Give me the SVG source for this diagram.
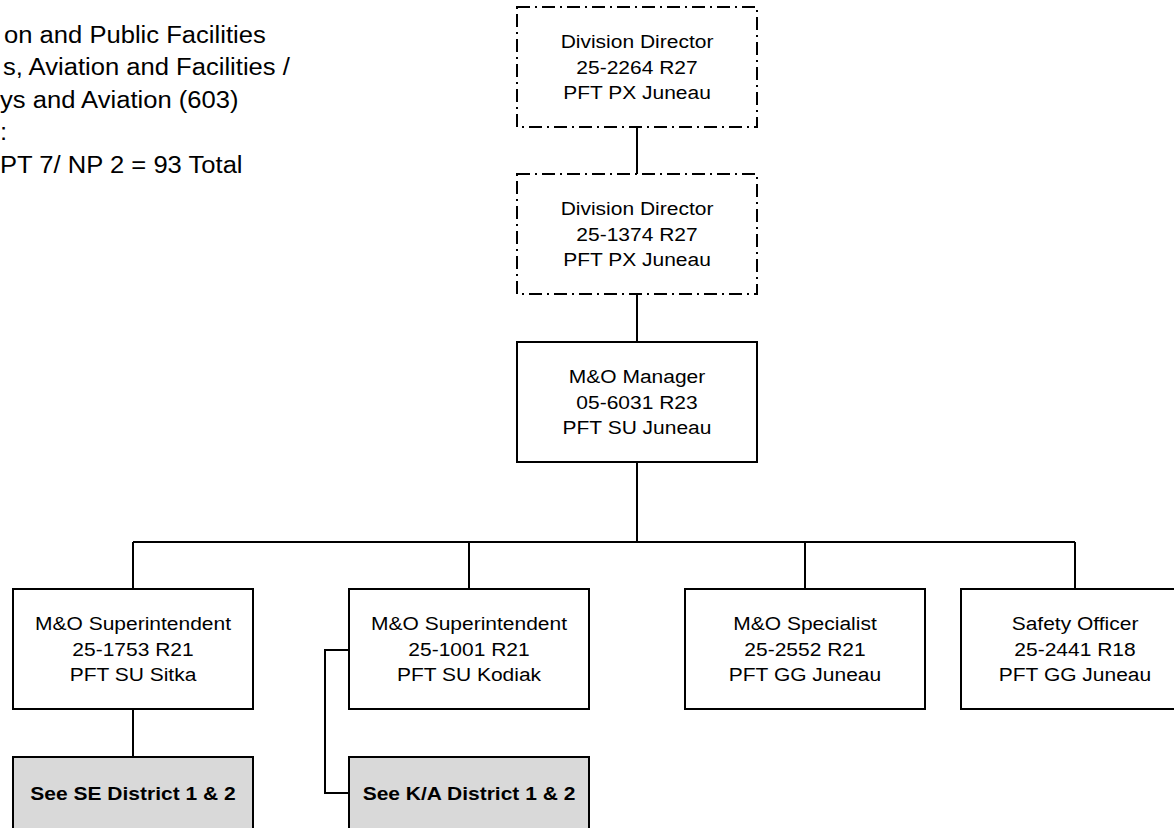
<svg xmlns="http://www.w3.org/2000/svg" width="1174" height="828" viewBox="0 0 1174 828">
<style>
.box{fill:#ffffff;stroke:#000000;stroke-width:2}
.dd{fill:#ffffff;stroke:#000000;stroke-width:2;stroke-dasharray:13 5 2 5}
.grey{fill:#d9d9d9;stroke:#000000;stroke-width:2}
.ln{fill:none;stroke:#000000;stroke-width:2}
.t{font-family:"Liberation Sans",Arial,sans-serif;font-size:21px;fill:#000000;text-anchor:middle}
.b{font-weight:bold}
.h{font-family:"Liberation Sans",Arial,sans-serif;font-size:25.6px;fill:#000000}
</style>
<rect width="1174" height="828" fill="#ffffff"/>
<g id="header">
<text class="h" transform="matrix(1 0 0 0.9 4 42.5)">on and Public Facilities</text>
<text class="h" transform="matrix(1 0 0 0.9 3 75)">s, Aviation and Facilities /</text>
<text class="h" transform="matrix(1 0 0 0.9 0 107.5)">ys and Aviation (603)</text>
<text class="h" transform="matrix(1 0 0 0.9 0 140)">:</text>
<text class="h" transform="matrix(1 0 0 0.9 0 172.5)">PT 7/ NP 2 = 93 Total</text>
</g>
<g id="connectors">
<path class="ln" d="M637 127V174"/>
<path class="ln" d="M637 294V342"/>
<path class="ln" d="M637 462V542"/>
<path class="ln" d="M133 542H1075"/>
<path class="ln" d="M133 542V589"/>
<path class="ln" d="M469 542V589"/>
<path class="ln" d="M805 542V589"/>
<path class="ln" d="M1075 542V589"/>
<path class="ln" d="M133 709V757"/>
<path class="ln" d="M349 650H325V793H349"/>
</g>
<g id="node-division-director-1">
<rect class="dd" x="517" y="7" width="240" height="120"/>
<text class="t" transform="matrix(1 0 0 0.885 637 48)">Division Director</text>
<text class="t" transform="matrix(1 0 0 0.885 637 73.5)">25-2264 R27</text>
<text class="t" transform="matrix(1 0 0 0.885 637 99)">PFT PX Juneau</text>
</g>
<g id="node-division-director-2">
<rect class="dd" x="517" y="174" width="240" height="120"/>
<text class="t" transform="matrix(1 0 0 0.885 637 215)">Division Director</text>
<text class="t" transform="matrix(1 0 0 0.885 637 240.5)">25-1374 R27</text>
<text class="t" transform="matrix(1 0 0 0.885 637 266)">PFT PX Juneau</text>
</g>
<g id="node-mo-manager">
<rect class="box" x="517" y="342" width="240" height="120"/>
<text class="t" transform="matrix(1 0 0 0.885 637 383)">M&amp;O Manager</text>
<text class="t" transform="matrix(1 0 0 0.885 637 408.5)">05-6031 R23</text>
<text class="t" transform="matrix(1 0 0 0.885 637 434)">PFT SU Juneau</text>
</g>
<g id="node-superintendent-sitka">
<rect class="box" x="13" y="589" width="240" height="120"/>
<text class="t" transform="matrix(1 0 0 0.885 133 630)">M&amp;O Superintendent</text>
<text class="t" transform="matrix(1 0 0 0.885 133 655.5)">25-1753 R21</text>
<text class="t" transform="matrix(1 0 0 0.885 133 681)">PFT SU Sitka</text>
</g>
<g id="node-superintendent-kodiak">
<rect class="box" x="349" y="589" width="240" height="120"/>
<text class="t" transform="matrix(1 0 0 0.885 469 630)">M&amp;O Superintendent</text>
<text class="t" transform="matrix(1 0 0 0.885 469 655.5)">25-1001 R21</text>
<text class="t" transform="matrix(1 0 0 0.885 469 681)">PFT SU Kodiak</text>
</g>
<g id="node-specialist">
<rect class="box" x="685" y="589" width="240" height="120"/>
<text class="t" transform="matrix(1 0 0 0.885 805 630)">M&amp;O Specialist</text>
<text class="t" transform="matrix(1 0 0 0.885 805 655.5)">25-2552 R21</text>
<text class="t" transform="matrix(1 0 0 0.885 805 681)">PFT GG Juneau</text>
</g>
<g id="node-safety-officer">
<rect class="box" x="961" y="589" width="230" height="120"/>
<text class="t" transform="matrix(1 0 0 0.885 1075 630)">Safety Officer</text>
<text class="t" transform="matrix(1 0 0 0.885 1075 655.5)">25-2441 R18</text>
<text class="t" transform="matrix(1 0 0 0.885 1075 681)">PFT GG Juneau</text>
</g>
<g id="node-se-district">
<rect class="grey" x="13" y="757" width="240" height="80"/>
<text class="t b" transform="matrix(1 0 0 0.885 133 800)">See SE District 1 &amp; 2</text>
</g>
<g id="node-ka-district">
<rect class="grey" x="349" y="757" width="240" height="80"/>
<text class="t b" transform="matrix(1 0 0 0.885 469 800)">See K/A District 1 &amp; 2</text>
</g>
</svg>
